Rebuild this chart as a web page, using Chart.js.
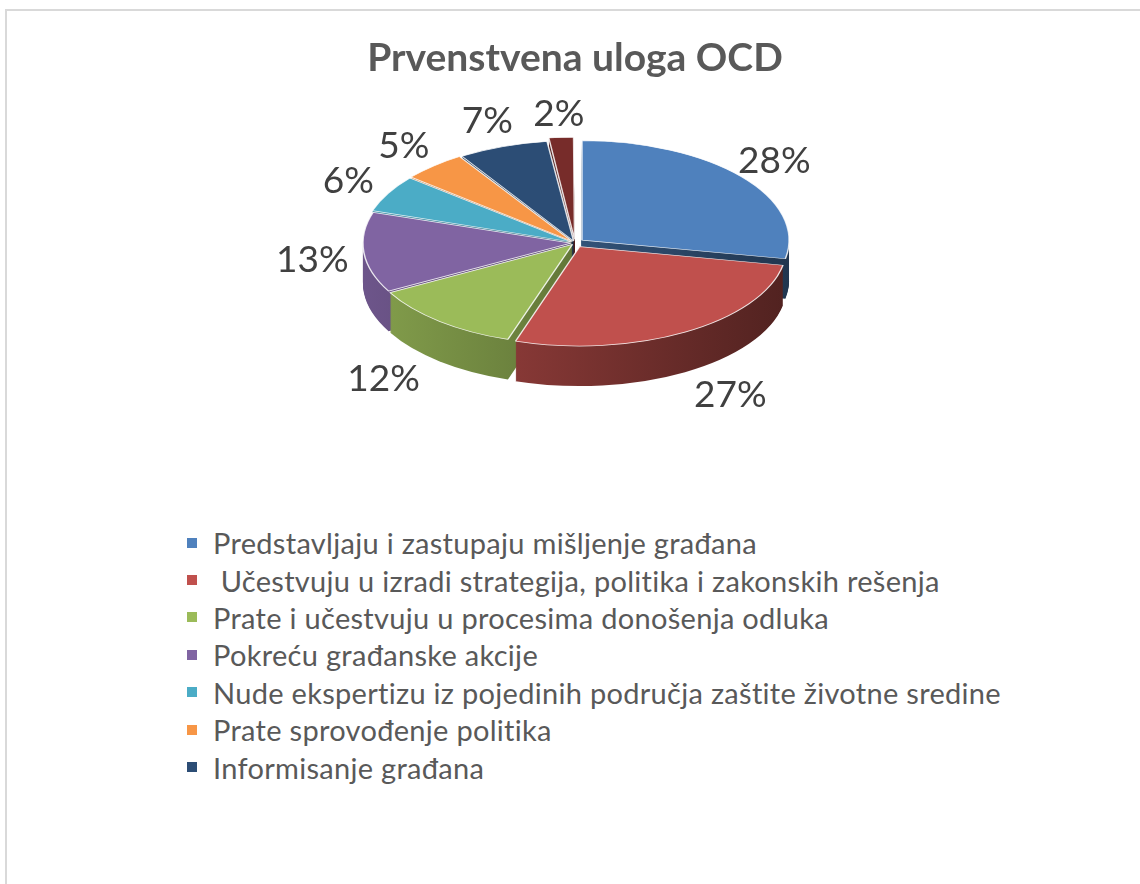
<!DOCTYPE html>
<html>
<head>
<meta charset="utf-8">
<title>Prvenstvena uloga OCD</title>
<script src="https://cdn.jsdelivr.net/npm/chart.js@4.4.0/dist/chart.umd.min.js"></script>
<style>
    body {
        margin: 0;
        width: 1140px;
        height: 884px;
        overflow: hidden;
        position: relative;
        background: #fff;
        font-family: Lato, "Liberation Sans", sans-serif;
    }
    #frame {
        position: absolute;
        left: 5px;
        top: 9px;
        width: 1200px;
        height: 920px;
        border: 2px solid #d9d9d9;
    }
    #wrap {
        position: absolute;
        left: 0;
        top: 0;
        width: 1150px;
        height: 480px;
    }
    #legend {
        position: absolute;
        left: 187px;
        top: 524px;
        margin: 0;
        padding: 0;
        list-style: none;
    }
    #legend li {
        height: 37.4px;
        display: flex;
        align-items: center;
        font-size: 29px;
        letter-spacing: 0.3px;
        color: #595959;
        white-space: pre;
    }
    #legend .box {
        width: 10px;
        height: 10px;
        margin-right: 16px;
        flex: none;
    }
</style>
</head>
<body>
<div id="frame"></div>
<div id="wrap"><canvas id="pieChart"></canvas></div>
<ul id="legend"></ul>

<script>
const categories = [
    'Predstavljaju i zastupaju mišljenje građana',
    ' Učestvuju u izradi strategija, politika i zakonskih rešenja',
    'Prate i učestvuju u procesima donošenja odluka',
    'Pokreću građanske akcije',
    'Nude ekspertizu iz pojedinih područja zaštite životne sredine',
    'Prate sprovođenje politika',
    'Informisanje građana',
    ''
];
const shares = [28, 27, 12, 13, 6, 5, 7, 2];
const colors = ['#4f81bd', '#c0504d', '#9bbb59', '#8064a2', '#4bacc6', '#f79646', '#2c4d75', '#772c2a'];
const explode = [36, 36, 16, 16, 16, 16, 16, 28];

const TILT = 0.48;   // vertical squash of the pie
const DEPTH = 40;    // thickness of the 3D side

function shade(hex, f) {
    const n = parseInt(hex.slice(1), 16);
    const r = Math.round(((n >> 16) & 255) * f);
    const g = Math.round(((n >> 8) & 255) * f);
    const b = Math.round((n & 255) * f);
    return 'rgb(' + r + ',' + g + ',' + b + ')';
}

const pie3d = {
    id: 'pie3d',
    beforeDatasetsDraw(chart) {
        const ctx = chart.ctx;
        const arcs = chart.getDatasetMeta(0).data;
        const cx = arcs[0].x, cy = arcs[0].y, r = arcs[0].outerRadius;

        const sides = colors.map(c => {
            const g = ctx.createLinearGradient(cx - r, 0, cx + r, 0);
            g.addColorStop(0, shade(c, 0.85));
            g.addColorStop(1, shade(c, 0.42));
            return g;
        });

        for (let d = DEPTH; d >= 1; d--) {
            ctx.save();
            ctx.translate(cx, cy + d);
            ctx.scale(1, TILT);
            ctx.translate(-cx, -cy);
            arcs.forEach((arc, i) => {
                const o = arc.options;
                arc.options = Object.assign({}, o, {backgroundColor: sides[i], borderWidth: 0});
                arc.draw(ctx);
                arc.options = o;
            });
            ctx.restore();
        }

        ctx.save();
        ctx.translate(cx, cy);
        ctx.scale(1, TILT);
        ctx.translate(-cx, -cy);
    },
    afterDatasetsDraw(chart) {
        const ctx = chart.ctx;
        ctx.restore();

        const arcs = chart.getDatasetMeta(0).data;
        ctx.save();
        ctx.font = '37px Lato, "Liberation Sans", sans-serif';
        ctx.fillStyle = '#404040';
        ctx.textAlign = 'center';
        ctx.textBaseline = 'middle';
        arcs.forEach((arc, i) => {
            const a = (arc.startAngle + arc.endAngle) / 2;
            const r = arc.outerRadius;
            const below = Math.max(Math.sin(a), 0);
            const x = arc.x + Math.cos(a) * r * (1.25 + 0.26 * below);
            const y = arc.y + Math.sin(a) * r * TILT * 1.3 + DEPTH * below * 1.2;
            ctx.fillText(shares[i] + '%', x, y);
        });
        ctx.restore();
    }
};

const ctx = document.getElementById('pieChart').getContext('2d');
const pieChart = new Chart(ctx, {
    type: 'pie',
    data: {
        labels: categories,
        datasets: [{
            data: shares,
            backgroundColor: colors,
            borderColor: 'rgba(255, 255, 255, 0.85)',
            borderWidth: 1.5,
            offset: explode,
            radius: 207,
            clip: false
        }]
    },
    options: {
        responsive: true,
        maintainAspectRatio: false,
        animation: false,
        events: [],
        layout: {
            padding: {bottom: 86}
        },
        plugins: {
            legend: {display: false},
            tooltip: {enabled: false},
            title: {
                display: true,
                text: 'Prvenstvena uloga OCD',
                color: '#595959',
                font: {family: 'Lato, "Liberation Sans", sans-serif', size: 39, weight: 'bold'},
                padding: {top: 35, bottom: 10}
            }
        }
    },
    plugins: [pie3d]
});

const legend = document.getElementById('legend');
categories.forEach((name, i) => {
    if (!name) return;
    const li = document.createElement('li');
    const box = document.createElement('span');
    box.className = 'box';
    box.style.background = colors[i];
    li.appendChild(box);
    li.appendChild(document.createTextNode(name));
    legend.appendChild(li);
});
</script>
</body>
</html>
